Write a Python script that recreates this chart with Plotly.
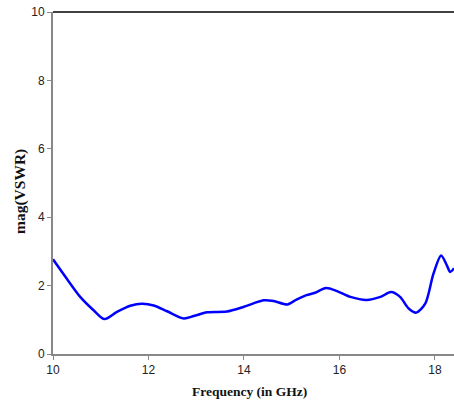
import plotly.graph_objects as go

freq = [10.0, 10.29, 10.57, 10.85, 11.08, 11.34, 11.62, 11.86, 12.11, 12.39, 12.74, 12.95,
        13.23, 13.64, 14.0, 14.41, 14.62, 14.91, 15.1, 15.31, 15.49, 15.72, 15.95, 16.23,
        16.57, 16.86, 17.08, 17.27, 17.45, 17.61, 17.8, 17.97, 18.13, 18.25, 18.32, 18.40]
vswr = [2.77, 2.2, 1.67, 1.28, 1.02, 1.23, 1.41, 1.47, 1.42, 1.25, 1.04, 1.11,
        1.22, 1.24, 1.38, 1.57, 1.55, 1.45, 1.59, 1.72, 1.79, 1.93, 1.84, 1.67,
        1.58, 1.67, 1.81, 1.67, 1.33, 1.21, 1.48, 2.35, 2.88, 2.59, 2.40, 2.51]

x_ticks = [10, 12, 14, 16, 18]
y_ticks = [0, 2, 4, 6, 8, 10]

serif = "Liberation Serif, Times New Roman"
x_title_font = dict(family=serif, size=13.5, color="#111", weight="bold")
y_title_font = dict(family=serif, size=15.5, color="#111", weight="bold")

fig = go.Figure()
fig.add_trace(go.Scatter(x=freq, y=vswr, mode="lines",
                         line=dict(color="#0000FF", width=2.5, shape="spline", smoothing=0.8),
                         showlegend=False))

fig.update_layout(
    width=454, height=403,
    margin=dict(l=53, r=0, t=12, b=49, autoexpand=False),
    paper_bgcolor="white", plot_bgcolor="white",
    font=dict(family="Liberation Sans, Arial", size=12, color="#222"),
    xaxis=dict(range=[10, 18.4], tickvals=x_ticks, showgrid=False, zeroline=False,
               automargin=False,
               showline=True, linecolor="#888", linewidth=2, ticks="outside",
               ticklen=4, tickcolor="#888", tickwidth=1),
    yaxis=dict(range=[0, 10], tickvals=y_ticks, showgrid=False, zeroline=False,
               automargin=False,
               showline=True, linecolor="#888", linewidth=2, ticks="outside",
               ticklen=4, tickcolor="#888", tickwidth=1),
    shapes=[dict(type="line", xref="paper", yref="paper", x0=0, x1=1, y0=1, y1=1,
                 line=dict(color="black", width=1.5))],
    annotations=[
        dict(text="Frequency (in GHz)", xref="paper", yref="paper", x=0.49, y=0,
             yshift=-37, xanchor="center", yanchor="middle", showarrow=False, font=x_title_font),
        dict(text="mag(VSWR)", xref="paper", yref="paper", x=0, y=0.5, textangle=-90,
             xshift=-33, yshift=-9, xanchor="center", yanchor="middle", showarrow=False, font=y_title_font),
    ],
)

fig.write_html("out.html", config={"displayModeBar": False},
               post_script="document.body.style.margin='0';document.body.style.overflow='hidden';")
